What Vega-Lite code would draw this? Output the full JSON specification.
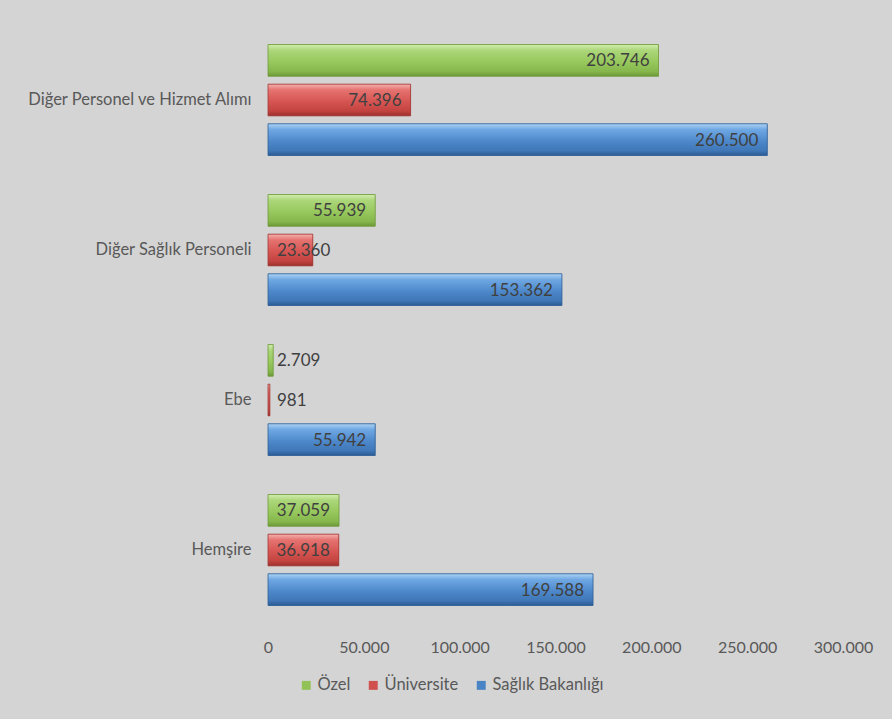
{
  "$schema": "https://vega.github.io/schema/vega-lite/v6.json",
  "width": 575,
  "height": 600,
  "autosize": {"type": "none"},
  "padding": {"left": 268, "top": 25, "right": 49, "bottom": 94},
  "background": "#d4d4d4",
  "config": {
    "view": {"stroke": null},
    "font": "Lato",
    "locale": {"number": {"decimal": ",", "thousands": ".", "grouping": [3], "currency": ["", ""]}}
  },
  "data": {
    "values": [
      {"kategori": "Diğer Personel ve Hizmet Alımı", "grup": "Özel", "deger": 203746},
      {"kategori": "Diğer Personel ve Hizmet Alımı", "grup": "Üniversite", "deger": 74396},
      {"kategori": "Diğer Personel ve Hizmet Alımı", "grup": "Sağlık Bakanlığı", "deger": 260500},
      {"kategori": "Diğer Sağlık Personeli", "grup": "Özel", "deger": 55939},
      {"kategori": "Diğer Sağlık Personeli", "grup": "Üniversite", "deger": 23360},
      {"kategori": "Diğer Sağlık Personeli", "grup": "Sağlık Bakanlığı", "deger": 153362},
      {"kategori": "Ebe", "grup": "Özel", "deger": 2709},
      {"kategori": "Ebe", "grup": "Üniversite", "deger": 981},
      {"kategori": "Ebe", "grup": "Sağlık Bakanlığı", "deger": 55942},
      {"kategori": "Hemşire", "grup": "Özel", "deger": 37059},
      {"kategori": "Hemşire", "grup": "Üniversite", "deger": 36918},
      {"kategori": "Hemşire", "grup": "Sağlık Bakanlığı", "deger": 169588}
    ]
  },
  "encoding": {
    "y": {
      "field": "kategori", "type": "nominal",
      "sort": ["Diğer Personel ve Hizmet Alımı", "Diğer Sağlık Personeli", "Ebe", "Hemşire"],
      "scale": {"paddingInner": 0.26, "paddingOuter": 0.13},
      "axis": {"title": null, "domain": false, "ticks": false, "labelPadding": 17, "labelFontSize": 16.5, "labelColor": "#595959", "labelFont": "Lato", "labelLimit": 300}
    },
    "yOffset": {
      "field": "grup", "type": "nominal",
      "sort": ["Özel", "Üniversite", "Sağlık Bakanlığı"],
      "scale": {"paddingInner": 0.2, "paddingOuter": 0}
    }
  },
  "layer": [
    {
      "mark": {"type": "bar"},
      "encoding": {
        "x": {
          "field": "deger", "type": "quantitative",
          "scale": {"domain": [0, 300000], "nice": false},
          "axis": {"title": null, "domain": false, "ticks": false, "grid": false, "values": [0, 50000, 100000, 150000, 200000, 250000, 300000], "format": ",d", "labelFontSize": 16, "labelColor": "#595959", "labelPadding": 14, "labelFont": "Lato", "labelFlush": false, "labelOverlap": false}
        },
        "color": {
          "field": "grup", "type": "nominal",
          "scale": {"domain": ["Özel", "Üniversite", "Sağlık Bakanlığı"], "range": ["#92c257", "#d0504d", "#4a84c4"]},
          "legend": {"title": null, "orient": "none", "legendX": 30, "legendY": 652, "direction": "horizontal", "symbolType": "square", "symbolSize": 80, "labelFontSize": 16.5, "labelColor": "#595959", "labelFont": "Lato", "columnPadding": 14, "symbolStrokeWidth": 0, "labelOffset": 3}
        }
      }
    },
    {
      "transform": [{"filter": "datum.grup === 'Özel'"}],
      "mark": {"type": "bar", "stroke": "#6f9a3c", "strokeWidth": 0.8, "color": {"gradient": "linear", "x1": 0, "y1": 0, "x2": 0, "y2": 1, "stops": [{"offset": 0, "color": "#d3ecb0"}, {"offset": 0.18, "color": "#acd77a"}, {"offset": 0.55, "color": "#97c85d"}, {"offset": 0.85, "color": "#86b74c"}, {"offset": 1, "color": "#6d9739"}]}},
      "encoding": {"x": {"field": "deger", "type": "quantitative"}}
    },
    {
      "transform": [{"filter": "datum.grup === 'Üniversite'"}],
      "mark": {"type": "bar", "stroke": "#9e3a37", "strokeWidth": 0.8, "color": {"gradient": "linear", "x1": 0, "y1": 0, "x2": 0, "y2": 1, "stops": [{"offset": 0, "color": "#f4b3b0"}, {"offset": 0.18, "color": "#e57370"}, {"offset": 0.55, "color": "#d65552"}, {"offset": 0.85, "color": "#c2433f"}, {"offset": 1, "color": "#9a302d"}]}},
      "encoding": {"x": {"field": "deger", "type": "quantitative"}}
    },
    {
      "transform": [{"filter": "datum.grup === 'Sağlık Bakanlığı'"}],
      "mark": {"type": "bar", "stroke": "#305f96", "strokeWidth": 0.8, "color": {"gradient": "linear", "x1": 0, "y1": 0, "x2": 0, "y2": 1, "stops": [{"offset": 0, "color": "#aed3f5"}, {"offset": 0.18, "color": "#6fa8e3"}, {"offset": 0.55, "color": "#4d88cb"}, {"offset": 0.85, "color": "#3f77b7"}, {"offset": 1, "color": "#2c5a91"}]}},
      "encoding": {"x": {"field": "deger", "type": "quantitative"}}
    },
    {
      "transform": [{"filter": "datum.deger >= 30000"}],
      "mark": {"type": "text", "align": "right", "baseline": "middle", "dx": -9, "dy": 1, "fontSize": 17, "color": "#404040", "font": "Lato"},
      "encoding": {
        "x": {"field": "deger", "type": "quantitative"},
        "text": {"field": "deger", "type": "quantitative", "format": ",d"}
      }
    },
    {
      "transform": [{"filter": "datum.deger < 30000"}],
      "mark": {"type": "text", "align": "left", "baseline": "middle", "dx": 9, "dy": 1, "fontSize": 17, "color": "#404040", "font": "Lato"},
      "encoding": {
        "x": {"datum": 0, "type": "quantitative"},
        "text": {"field": "deger", "type": "quantitative", "format": ",d"}
      }
    }
  ]
}
